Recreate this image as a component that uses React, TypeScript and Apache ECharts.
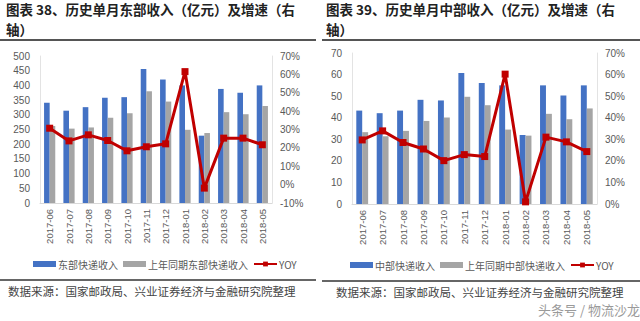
import React, { useEffect, useRef } from "react";
import * as echarts from "echarts";

const months = ["2017-06","2017-07","2017-08","2017-09","2017-10","2017-11","2017-12","2018-01","2018-02","2018-03","2018-04","2018-05"];

const eastNow = [341, 314, 326, 358, 360, 456, 420, 400, 229, 388, 375, 400];
const eastPrev = [262, 253, 257, 290, 305, 380, 345, 249, 238, 309, 302, 330];
const eastYoy = [30.7, 23.8, 27.1, 24.0, 18.4, 20.6, 22.2, 61.5, -1.9, 25.3, 25.3, 21.7];

const midNow = [43.3, 42.1, 43.3, 48.3, 48.0, 60.7, 56.1, 55.0, 32.0, 55.0, 50.3, 55.0];
const midPrev = [33.3, 31.4, 33.9, 38.5, 40.1, 49.7, 45.8, 34.5, 31.7, 41.8, 39.3, 44.3];
const midYoy = [29.7, 33.9, 28.5, 25.5, 20.1, 22.9, 22.0, 60.2, 1.0, 31.0, 28.8, 24.3];

const titleLeft1 = "图表 38、历史单月东部收入（亿元）及增速（右";
const titleRight1 = "图表 39、历史单月中部收入（亿元）及增速（右";
const titleLine2 = "轴）";
const sourceText = "数据来源：国家邮政局、兴业证券经济与金融研究院整理";
const watermark = "头条号 / 物流沙龙";

const BLUE = "#4472C4";
const GRAY = "#A5A5A5";
const RED = "#C00000";
const LABEL = "#595959";
const FONT = "'Noto Sans CJK SC', 'Noto Sans', sans-serif";

export default function App() {
  const ref = useRef<HTMLDivElement>(null);
  useEffect(() => {
    const chart = echarts.init(ref.current!, null, { renderer: "svg" });
    const axisLabel = { color: LABEL, fontSize: 10, fontFamily: "'Liberation Sans', Arial, sans-serif" };
    const xAxisBase = (gridIndex: number) => ({
      type: "category",
      gridIndex,
      data: months,
      axisTick: { show: false },
      axisLine: { lineStyle: { color: "#d9d9d9" } },
      axisLabel: { ...axisLabel, fontSize: 9.5, rotate: 90, margin: 6 },
    });
    const yBase = (gridIndex: number, position: string, min: number, max: number, interval: number, pct: boolean) => ({
      type: "value",
      gridIndex,
      position,
      min,
      max,
      interval,
      splitLine: { show: false },
      axisTick: { show: false },
      axisLine: { show: true, lineStyle: { color: "#e3e3e3" } },
      axisLabel: { ...axisLabel, margin: position === "left" ? 10 : 8, formatter: pct ? "{value}%" : "{value}" },
    });
    const legendText = { color: LABEL, fontSize: 10, fontFamily: FONT, padding: [0, 0, 0, -3] };
    chart.setOption({
      animation: false,
      backgroundColor: "#ffffff",
      grid: [
        { left: 40, right: 368, top: 56, bottom: 118 },
        { left: 352, right: 43, top: 53, bottom: 117 },
      ],
      xAxis: [xAxisBase(0), xAxisBase(1)],
      yAxis: [
        yBase(0, "left", 0, 500, 50, false),
        yBase(0, "right", -10, 70, 10, true),
        yBase(1, "left", 0, 70, 10, false),
        yBase(1, "right", 0, 70, 10, true),
      ],
      legend: [
        {
          left: 28, top: 254, width: 300, itemWidth: 23, itemHeight: 6, itemGap: 5,
          textStyle: legendText,
          data: [
            { name: "东部快递收入", icon: "rect" },
            { name: "上年同期东部快递收入", icon: "rect" },
            { name: "YOY " },
          ],
        },
        {
          left: 345, top: 255, width: 300, itemWidth: 23, itemHeight: 6, itemGap: 5,
          textStyle: legendText,
          data: [
            { name: "中部快递收入", icon: "rect" },
            { name: "上年同期中部快递收入", icon: "rect" },
            { name: "YOY" },
          ],
        },
      ],
      series: [
        { name: "东部快递收入", type: "bar", xAxisIndex: 0, yAxisIndex: 0, data: eastNow, itemStyle: { color: BLUE }, barGap: "0%", barCategoryGap: "42%" },
        { name: "上年同期东部快递收入", type: "bar", xAxisIndex: 0, yAxisIndex: 0, data: eastPrev, itemStyle: { color: GRAY } },
        { name: "YOY ", type: "line", xAxisIndex: 0, yAxisIndex: 1, data: eastYoy, symbol: "rect", symbolSize: 7, lineStyle: { color: RED, width: 3 }, itemStyle: { color: RED } },
        { name: "中部快递收入", type: "bar", xAxisIndex: 1, yAxisIndex: 2, data: midNow, itemStyle: { color: BLUE }, barGap: "0%", barCategoryGap: "42%" },
        { name: "上年同期中部快递收入", type: "bar", xAxisIndex: 1, yAxisIndex: 2, data: midPrev, itemStyle: { color: GRAY } },
        { name: "YOY", type: "line", xAxisIndex: 1, yAxisIndex: 3, data: midYoy, symbol: "rect", symbolSize: 7, lineStyle: { color: RED, width: 3 }, itemStyle: { color: RED } },
      ],
      graphic: [
        { type: "text", left: 6, top: 2, style: { text: titleLeft1, fontSize: 13.5, fontWeight: "bold", fill: "#222", fontFamily: FONT } },
        { type: "text", left: 6, top: 22, style: { text: titleLine2, fontSize: 13.5, fontWeight: "bold", fill: "#222", fontFamily: FONT } },
        { type: "text", left: 326, top: 2, style: { text: titleRight1, fontSize: 13.5, fontWeight: "bold", fill: "#222", fontFamily: FONT } },
        { type: "text", left: 326, top: 22, style: { text: titleLine2, fontSize: 13.5, fontWeight: "bold", fill: "#222", fontFamily: FONT } },
        { type: "rect", shape: { x: 0, y: 39, width: 316, height: 2 }, style: { fill: "#555" } },
        { type: "rect", shape: { x: 322, y: 39, width: 318, height: 2 }, style: { fill: "#555" } },
        { type: "rect", shape: { x: 0, y: 279, width: 316, height: 2 }, style: { fill: "#666" } },
        { type: "rect", shape: { x: 322, y: 280, width: 318, height: 2 }, style: { fill: "#666" } },
        { type: "text", left: 8, top: 285, style: { text: sourceText, fontSize: 11.5, fill: "#444", fontFamily: FONT } },
        { type: "text", left: 336, top: 286, style: { text: sourceText, fontSize: 11.5, fill: "#444", fontFamily: FONT } },
        { type: "text", left: 538, top: 303, style: { text: watermark, fontSize: 13, fill: "#9a9a9a", fontFamily: FONT } },
      ],
    });
    return () => chart.dispose();
  }, []);
  return <div ref={ref} style={{ width: 640, height: 321, position: "absolute", left: 0, top: 0 }} />;
}
